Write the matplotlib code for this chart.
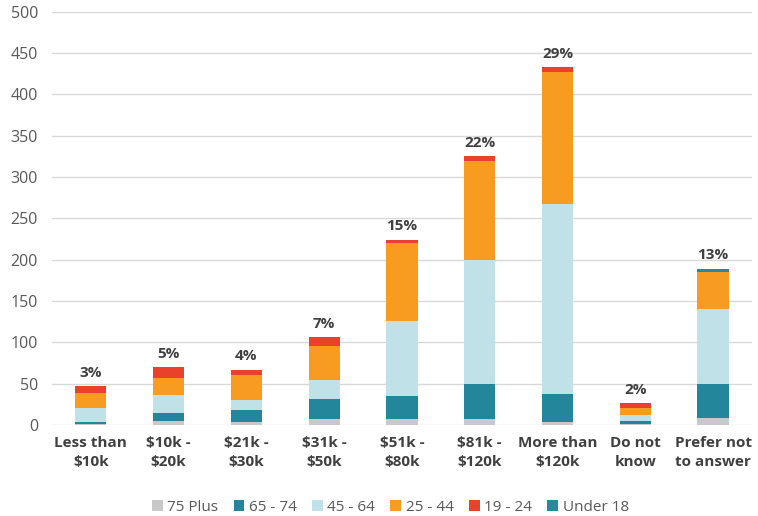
import numpy as np
import matplotlib
matplotlib.use('Agg')
import matplotlib.pyplot as plt

plt.rcParams['font.family'] = ['Open Sans', 'DejaVu Sans']

# categories and stacked values
categories = ['Less than\n$10k', '$10k -\n$20k', '$21k -\n$30k', '$31k -\n$50k', '$51k -\n$80k',
              '$81k -\n$120k', 'More than\n$120k', 'Do not\nknow', 'Prefer not\nto answer']
age_groups = ['75 Plus', '65 - 74', '45 - 64', '25 - 44', '19 - 24', 'Under 18']
plus75 = [1, 5, 3, 7, 7, 7, 3, 1, 9]
age65_74 = [2, 9, 15, 25, 28, 42, 34, 4, 40]
age45_64 = [17, 22, 12, 23, 91, 151, 230, 7, 91]
age25_44 = [19, 21, 31, 41, 94, 120, 160, 8, 45]
age19_24 = [8, 13, 6, 10, 4, 5, 6, 5, 0]
under18 = [0, 0, 0, 0, 0, 0, 0, 1, 4]
percents = ['3%', '5%', '4%', '7%', '15%', '22%', '29%', '2%', '13%']

series = [plus75, age65_74, age45_64, age25_44, age19_24, under18]
colors = ['#c9c9c9', '#23869a', '#bfe1e7', '#f79c21', '#e9412b', '#268a9e']

fig = plt.figure(figsize=(7.58, 5.16), dpi=100)
ax = fig.add_axes([0.0686, 0.1764, 0.9234, 0.8006])

x = np.arange(len(categories))
bottom = np.zeros(len(categories))
for vals, lab, col in zip(series, age_groups, colors):
    ax.bar(x, vals, width=0.4, bottom=bottom, color=col, label=lab, zorder=3)
    bottom += np.array(vals)

for xi, tot, p in zip(x, bottom, percents):
    ax.text(xi, tot + 8, p, ha='center', va='bottom', fontsize=11,
            fontweight='bold', color='#404040')

ax.set_xlim(-0.5, len(categories) - 0.5)
ax.set_ylim(0, 500)
ax.set_yticks(range(0, 501, 50))
ax.grid(axis='y', color='#d9d9d9', linewidth=1, zorder=0)
for s in ax.spines.values():
    s.set_visible(False)
ax.tick_params(axis='both', length=0, colors='#595959')
ax.tick_params(axis='y', labelsize=11.5, pad=10)
ax.set_xticks(x)
ax.set_xticklabels(categories, fontsize=11, fontweight='bold', color='#404040',
                   linespacing=1.45)
ax.tick_params(axis='x', pad=8)

leg = fig.legend(loc='lower center', bbox_to_anchor=(0.515, -0.025), ncol=6, frameon=False,
                 fontsize=11, handlelength=0.7, handleheight=0.7, handletextpad=0.3,
                 columnspacing=1.0)
for t in leg.get_texts():
    t.set_color('#595959')

fig.savefig('out.png', dpi=100)
